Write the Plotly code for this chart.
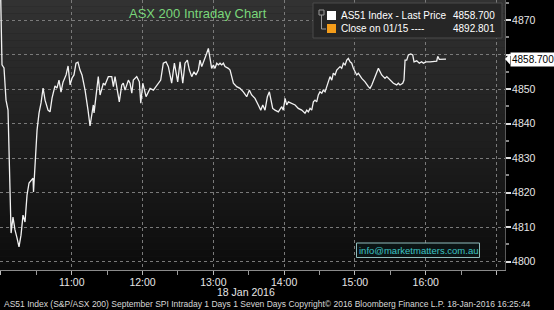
import pandas as pd
import plotly.graph_objects as go

# ---------------- data ----------------
session_date = "2016-01-18"
minutes_after_10 = [
    -0.5, 0.9, 2.6, 3.5, 4.3, 6.0, 8.6, 10.2, 11.9, 13.6,
    15.3, 17.0, 18.7, 20.4, 22.1, 23.8, 25.5, 27.2, 27.6, 29.3,
    30.6, 32.3, 34.0, 35.7, 37.4, 39.9, 41.6, 43.3, 45.8, 47.5,
    49.2, 50.9, 52.6, 55.2, 56.9, 58.6, 60.3, 61.9, 63.6, 65.3,
    67.0, 68.7, 71.3, 73.8, 75.5, 78.3, 78.9, 82.5, 84.0, 86.8,
    88.2, 91.0, 93.9, 95.3, 96.7, 100.3, 102.4, 103.7, 105.2, 108.0,
    109.4, 110.9, 112.2, 115.1, 117.3, 118.5, 120.2, 123.0, 126.4, 129.2,
    133.4, 135.4, 137.6, 139.9, 141.9, 144.7, 147.0, 149.8, 151.8, 154.1,
    156.0, 158.0, 159.7, 161.7, 163.6, 165.3, 167.3, 168.7, 170.2, 171.5,
    173.0, 174.4, 175.8, 177.2, 178.6, 180.0, 181.4, 182.9, 184.2, 185.7,
    187.1, 188.5, 189.9, 192.7, 194.2, 197.0, 199.8, 202.6, 205.4, 208.3,
    210.5, 212.5, 215.3, 218.1, 220.2, 221.9, 223.8, 225.8, 227.5, 228.9,
    230.3, 232.3, 235.1, 238.0, 239.3, 240.8, 242.2, 243.6, 246.5, 249.3,
    252.0, 254.9, 257.7, 259.2, 260.5, 262.0, 263.4, 264.8, 266.2, 267.6,
    269.0, 270.4, 271.9, 273.2, 274.7, 276.1, 277.5, 278.9, 280.4, 281.7,
    283.2, 284.6, 286.0, 287.4, 288.8, 290.2, 291.7, 293.1, 294.4, 295.9,
    297.3, 298.7, 301.5, 302.9, 305.8, 308.6, 311.4, 312.8, 314.3, 317.0,
    319.9, 322.7, 325.5, 327.0, 329.8, 332.6, 335.4, 336.8, 338.2, 340.5,
    341.6, 342.5, 343.9, 345.3, 347.3, 349.0, 350.1, 352.4, 354.6, 356.6,
    358.0, 360.3, 363.7, 366.5, 369.3, 370.2, 371.5, 377.2,
]
last_price = [
    4882.0, 4857.0, 4856.1, 4850.3, 4846.8, 4843.9, 4808.3, 4812.9, 4809.2, 4806.9,
    4804.3, 4807.7, 4813.5, 4811.5, 4819.3, 4822.8, 4823.4, 4824.2, 4820.2, 4832.3,
    4838.1, 4843.1, 4846.0, 4850.3, 4846.8, 4843.9, 4843.4, 4847.4, 4850.9, 4850.3,
    4852.6, 4849.1, 4852.0, 4854.1, 4856.7, 4851.2, 4853.2, 4854.1, 4857.5, 4857.8,
    4855.5, 4854.1, 4849.7, 4843.9, 4839.3, 4845.4, 4843.1, 4853.6, 4848.3, 4851.7,
    4851.2, 4853.6, 4853.6, 4850.7, 4853.6, 4846.3, 4851.2, 4851.7, 4849.7, 4852.6,
    4851.7, 4848.8, 4852.6, 4853.6, 4852.1, 4845.9, 4851.7, 4847.8, 4850.2, 4849.7,
    4851.7, 4852.6, 4857.5, 4857.9, 4856.5, 4851.7, 4857.5, 4852.1, 4857.9, 4851.7,
    4857.5, 4858.4, 4855.5, 4853.6, 4855.0, 4854.1, 4855.5, 4858.4, 4856.5, 4857.9,
    4858.9, 4860.4, 4861.8, 4858.4, 4856.0, 4857.0, 4856.0, 4857.5, 4857.0, 4857.5,
    4857.0, 4857.5, 4856.5, 4856.0, 4855.5, 4851.7, 4850.7, 4850.2, 4849.2, 4847.8,
    4849.7, 4848.3, 4847.3, 4845.4, 4843.9, 4845.4, 4843.9, 4847.8, 4849.2, 4846.8,
    4844.4, 4843.9, 4843.4, 4844.9, 4843.9, 4847.3, 4845.4, 4846.3, 4845.9, 4845.4,
    4844.4, 4843.9, 4843.0, 4843.9, 4843.4, 4844.4, 4843.9, 4846.3, 4846.8, 4846.3,
    4848.3, 4849.2, 4848.8, 4849.7, 4849.2, 4850.7, 4851.7, 4853.6, 4852.6, 4854.6,
    4854.1, 4855.5, 4856.0, 4856.5, 4856.0, 4857.5, 4857.0, 4858.4, 4858.9, 4857.9,
    4857.5, 4856.0, 4854.1, 4854.6, 4853.1, 4852.1, 4850.7, 4850.2, 4851.2, 4853.6,
    4856.0, 4854.1, 4853.1, 4853.6, 4852.6, 4851.7, 4851.2, 4851.7, 4851.2, 4851.7,
    4852.6, 4858.4, 4858.4, 4859.9, 4860.2, 4859.9, 4857.9, 4858.2, 4857.5, 4857.9,
    4857.5, 4857.9, 4857.9, 4857.9, 4858.1, 4859.5, 4858.6, 4858.7,
]
prev_close = 4892.801
last_value = 4858.700
y_ticks = [4800, 4810, 4820, 4830, 4840, 4850, 4860, 4870]
y_labels = ["4800", "4810", "4820", "4830", "4840", "4850", "", "4870"]
x_hours = ["10:00", "11:00", "12:00", "13:00", "14:00", "15:00", "16:00", "17:00"]
x_labels = ["", "11:00", "12:00", "13:00", "14:00", "15:00", "16:00", ""]
x_half = ["10:30", "11:30", "12:30", "13:30", "14:30", "15:30", "16:30"]
legend_rows = [("AS51 Index - Last Price", "4858.700", "#ffffff"),
               ("Close on 01/15 ----", "4892.801", "#f39c1a")]
title_text = "ASX 200 Intraday Chart"
date_label = "18 Jan 2016"
footer = ("AS51 Index (S&P/ASX 200) September SPI Intraday 1 Days 1 Seven Days "
          "Copyright\u00a9 2016 Bloomberg Finance L.P. 18-Jan-2016 16:25:44")
email = "info@marketmatters.com.au"

# ---------------- build ----------------
FONT = "Liberation Sans, Arial, sans-serif"
W, H = 554, 310
ML, MR, MT, MB = 0, 49, 0, 40
PW, PH = W - ML - MR, H - MT - MB

base = pd.Timestamp(f"{session_date} 10:00")
times = [base + pd.Timedelta(minutes=m) for m in minutes_after_10]
x_start = base + pd.Timedelta(minutes=-0.8)
x_end = base + pd.Timedelta(minutes=427.2)


def px(x, y):
    """pixel position in the plot area -> paper coords"""
    return x / PW, 1 - y / PH


fig = go.Figure()
fig.add_trace(go.Scatter(x=[x_start, x_end], y=[prev_close, prev_close], mode="lines",
                         line=dict(color="#f39c1a", width=1.2), showlegend=False,
                         hoverinfo="skip"))
fig.add_trace(go.Scatter(x=times, y=last_price, mode="lines",
                         line=dict(color="#f2f2f2", width=1.3), showlegend=False))

shapes = []
# vertical background gradient of the plot area
n = 40
top, bot = (50, 50, 50), (12, 12, 12)
for i in range(n):
    f = i / (n - 1)
    c = tuple(int(round(top[k] + (bot[k] - top[k]) * f)) for k in range(3))
    shapes.append(dict(type="rect", xref="paper", yref="paper", x0=0, x1=1,
                       y0=1 - (i + 1) / n, y1=1 - i / n, layer="below",
                       line=dict(width=0), fillcolor=f"rgb{c}"))

# legend box
x0, y1 = px(313, 3)
x1, y0 = px(502, 38)
shapes.append(dict(type="rect", xref="paper", yref="paper", x0=x0, x1=x1, y0=y0, y1=y1,
                   fillcolor="#262626", line=dict(color="#4a4a4a", width=1)))
# legend swatches
for i, (_, _, col) in enumerate(legend_rows):
    a, b = px(327, 11 + 13 * i)
    c, d = px(336, 20 + 13 * i)
    shapes.append(dict(type="rect", xref="paper", yref="paper", x0=a, x1=c, y0=d, y1=b,
                       fillcolor=col, line=dict(width=0)))
# little tree icon
a, b = px(319, 10)
c, d = px(324, 15)
shapes.append(dict(type="rect", xref="paper", yref="paper", x0=a, x1=c, y0=d, y1=b,
                   line=dict(color="#9a9a9a", width=1)))
p1 = px(321.5, 15)
p2 = px(321.5, 29)
p3 = px(326, 29)
shapes.append(dict(type="path", xref="paper", yref="paper",
                   path=f"M{p1[0]},{p1[1]} L{p2[0]},{p2[1]} L{p3[0]},{p3[1]}",
                   line=dict(color="#9a9a9a", width=1)))

# email box
a, b = px(356.5, 243)
c, d = px(479.5, 257.5)
shapes.append(dict(type="rect", xref="paper", yref="paper", x0=a, x1=c, y0=d, y1=b,
                   fillcolor="#0b1414", line=dict(color="#8fbcbc", width=1)))

# last-price marker arrow
t1 = px(505, 59)
t2 = px(510, 53.5)
t3 = px(510, 64.5)
shapes.append(dict(type="path", xref="paper", yref="paper",
                   path=f"M{t1[0]},{t1[1]} L{t2[0]},{t2[1]} L{t3[0]},{t3[1]} Z",
                   fillcolor="#ffffff", line=dict(width=0)))

ann = []
tx, ty = px(198, 13.5)
ann.append(dict(text=title_text, x=tx, y=ty, xref="paper", yref="paper", showarrow=False,
                xanchor="center", yanchor="middle",
                font=dict(family=FONT, size=13, color="#7ad67a")))
for i, (name, val, _) in enumerate(legend_rows):
    lx, ly = px(339, 16 + 13 * i)
    rx, _ = px(497, 0)
    ann.append(dict(text=name, x=lx, y=ly, xref="paper", yref="paper", showarrow=False,
                    xanchor="left", yanchor="middle",
                    font=dict(family=FONT, size=10, color="#ffffff")))
    ann.append(dict(text=val, x=rx, y=ly, xref="paper", yref="paper", showarrow=False,
                    xanchor="right", yanchor="middle",
                    font=dict(family=FONT, size=10, color="#ffffff")))
ex, ey = px(418, 250.5)
ann.append(dict(text=email, x=ex, y=ey, xref="paper", yref="paper", showarrow=False,
                xanchor="center", yanchor="middle",
                font=dict(family=FONT, size=9.5, color="#3cc4c4")))
lx, _ = px(510, 0)
ann.append(dict(text=f"{last_value:.3f}", x=lx, y=last_value, xref="paper", yref="y",
                showarrow=False, xanchor="left", yanchor="middle", bgcolor="#ffffff",
                borderpad=1, font=dict(family=FONT, size=10, color="#000000")))
dx, dy = px(246, 292)
ann.append(dict(text=date_label, x=dx, y=dy, xref="paper", yref="paper", showarrow=False,
                xanchor="center", yanchor="middle",
                font=dict(family=FONT, size=10.5, color="#e6e6e6")))
fx, fy = px(2, 304)
ann.append(dict(text=footer, x=fx, y=fy, xref="paper", yref="paper", showarrow=False,
                xanchor="left", yanchor="middle",
                font=dict(family=FONT, size=8.5, color="#d8d8d8")))

fig.update_layout(
    width=W, height=H, margin=dict(l=ML, r=MR, t=MT, b=MB),
    paper_bgcolor="#000000", plot_bgcolor="#1c1c1c",
    shapes=shapes, annotations=ann, showlegend=False,
    font=dict(family=FONT, color="#e6e6e6"),
    xaxis=dict(
        type="date", range=[x_start, x_end],
        tickmode="array",
        tickvals=[pd.Timestamp(f"{session_date} {h}") for h in x_hours],
        ticktext=x_labels,
        ticks="outside", ticklen=4, tickwidth=1, tickcolor="#bbbbbb",
        ticklabelstandoff=-2,
        minor=dict(tickmode="array",
                   tickvals=[pd.Timestamp(f"{session_date} {h}") for h in x_half],
                   ticks="outside", ticklen=4, tickcolor="#999999", showgrid=False),
        showgrid=True, gridcolor="#7a7a7a", griddash="dot", gridwidth=1,
        showline=True, linecolor="#8a8a8a", linewidth=1, zeroline=False,
        tickfont=dict(family=FONT, size=10.5, color="#e6e6e6"),
    ),
    yaxis=dict(
        side="right", range=[4797.6, 4875.8],
        tickmode="array", tickvals=y_ticks, ticktext=y_labels,
        ticks="outside", ticklen=5, tickwidth=2, tickcolor="#e0e0e0",
        ticklabelstandoff=-1,
        minor=dict(dtick=5, ticks="outside", ticklen=3, tickcolor="#888888",
                   showgrid=False),
        showgrid=True, gridcolor="#7a7a7a", griddash="dot", gridwidth=1,
        showline=True, linecolor="#5a5a5a", linewidth=1, zeroline=False,
        tickfont=dict(family=FONT, size=10.5, color="#e6e6e6"),
    ),
)

fig.write_html("out.html")
